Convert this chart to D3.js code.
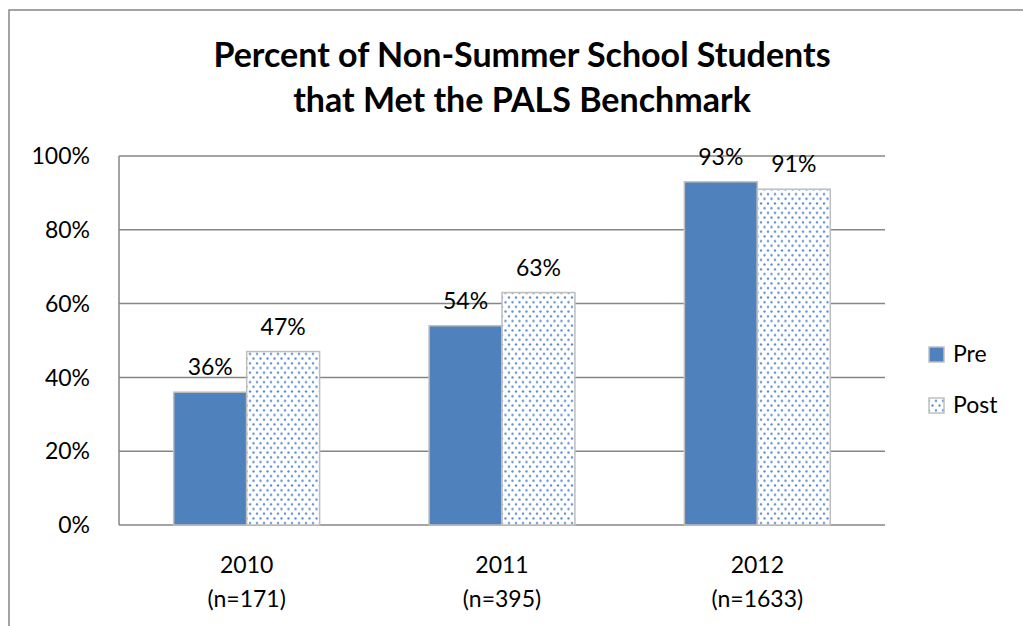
<!DOCTYPE html>
<html><head><meta charset="utf-8">
<script src="https://cdn.jsdelivr.net/npm/d3@7"></script>
<style>body{margin:0;background:#fff}svg{display:block}text{font-family:Lato,"Open Sans",sans-serif}</style>
</head><body>
<svg id="c" width="1023" height="626"></svg>
<script>
const categories = ["2010", "2011", "2012"];
const nLabels = ["(n=171)", "(n=395)", "(n=1633)"];
const seriesNames = ["Pre", "Post"];
const preValues = [36, 54, 93];
const postValues = [47, 63, 91];
const yTicks = [0, 20, 40, 60, 80, 100];
const titleLines = ["Percent of Non-Summer School Students", "that Met the PALS Benchmark"];

const svg = d3.select("#c");
const defs = svg.append("defs");
const pat = defs.append("pattern").attr("id","dots").attr("patternUnits","userSpaceOnUse")
  .attr("width",7).attr("height",9.4);
pat.append("rect").attr("width",7).attr("height",9.4).attr("fill","#fff");
pat.append("circle").attr("cx",1.5).attr("cy",1.5).attr("r",1.2).attr("fill","#5b8bd0");
pat.append("circle").attr("cx",5).attr("cy",6.2).attr("r",1.2).attr("fill","#5b8bd0");

// outer border
svg.append("rect").attr("x",9).attr("y",10).attr("width",1030).attr("height",640)
  .attr("fill","none").attr("stroke","#868686").attr("stroke-width",1.5);

const m = {left:119, right:885, top:156, bottom:525};
const x0 = d3.scaleBand().domain(categories).range([m.left, m.right]).paddingInner(0).paddingOuter(0);
const y = d3.scaleLinear().domain([0,100]).range([m.bottom, m.top]);
const barW = x0.bandwidth()/3.5;
const fs = 23;

// gridlines
svg.append("g").selectAll("line").data(yTicks).join("line")
  .attr("x1",m.left).attr("x2",m.right).attr("y1",d=>y(d)).attr("y2",d=>y(d))
  .attr("stroke","#868686").attr("stroke-width",1.5);
svg.append("line").attr("x1",m.left).attr("x2",m.left).attr("y1",m.top).attr("y2",m.bottom)
  .attr("stroke","#868686").attr("stroke-width",1.5);

// y labels
svg.append("g").selectAll("text").data(yTicks).join("text")
  .attr("x",90).attr("y",d=>y(d)).attr("dy","0.36em").attr("text-anchor","end")
  .attr("font-size",fs).attr("fill","#000").text(d=>d+"%");

const rows = categories.map((c,i)=>({c, vals:[preValues[i], postValues[i]]}));
const g = svg.append("g");
rows.forEach(r=>{
  r.vals.forEach((v,j)=>{
    const bx = x0(r.c) + x0.bandwidth()/2 - barW + j*barW;
    g.append("rect").attr("x",bx).attr("y",y(v)).attr("width",barW).attr("height",y(0)-y(v))
      .attr("fill", j===0 ? "#4f81bd" : "url(#dots)")
      .attr("stroke","#bfbfbf").attr("stroke-width",1.5);
    g.append("text").attr("x",bx+barW/2).attr("y",y(v)-17).attr("text-anchor","middle")
      .attr("font-size",fs).attr("fill","#000").text(v+"%");
  });
});

// x labels
svg.append("g").selectAll("text").data(categories).join("text")
  .attr("x",d=>x0(d)+x0.bandwidth()/2).attr("y",573).attr("text-anchor","middle")
  .attr("font-size",fs).text(d=>d);
svg.append("g").selectAll("text").data(nLabels).join("text")
  .attr("x",(d,i)=>x0(categories[i])+x0.bandwidth()/2).attr("y",607).attr("text-anchor","middle")
  .attr("font-size",fs).text(d=>d);

// title
svg.append("g").selectAll("text").data(titleLines).join("text")
  .attr("x",522).attr("y",(d,i)=>67+i*45).attr("text-anchor","middle")
  .attr("font-size",34).attr("font-weight","bold").text(d=>d);

// legend
const lg = svg.append("g");
seriesNames.forEach((s,i)=>{
  lg.append("rect").attr("x",929).attr("y",347+i*51).attr("width",15).attr("height",15)
    .attr("fill", i===0 ? "#4f81bd" : "url(#dots)").attr("stroke","#bfbfbf").attr("stroke-width",1.5);
  lg.append("text").attr("x",953).attr("y",362+i*51)
    .attr("font-size",fs).text(s);
});
</script>
</body></html>
